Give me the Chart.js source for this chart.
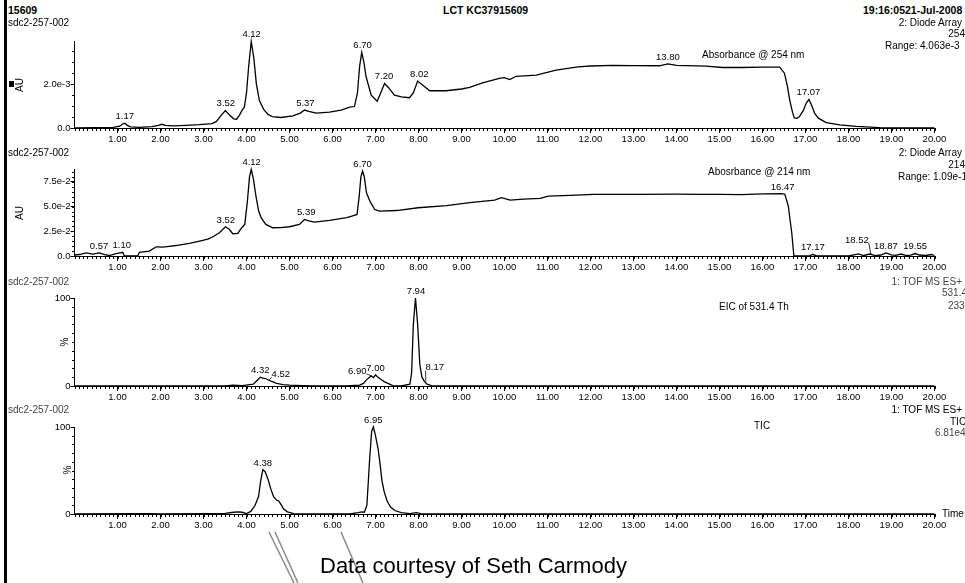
<!DOCTYPE html>
<html>
<head>
<meta charset="utf-8">
<title>LCT KC37915609</title>
<script src="https://cdn.jsdelivr.net/npm/chart.js@4.4.1/dist/chart.umd.min.js"></script>
<style>
  body { margin: 0; width: 965px; height: 583px; position: relative; overflow: hidden; background: #fff;
         font-family: "Liberation Sans", Arial, sans-serif; }
  canvas { position: absolute; left: 0; }
  .t { position: absolute; font-size: 10px; line-height: 12px; white-space: nowrap; color: #000; }
  .b { font-weight: bold; font-size: 10.5px; }
  .r { text-align: right; }
  .g { color: #444; }
  .rot { transform: translate(-50%, -50%) rotate(-90deg); }
  #bar { position: absolute; left: 4px; top: 0; width: 3px; height: 583px; background: #000; }
  #sq { position: absolute; left: 9px; top: 81px; width: 5px; height: 6px; background: #000; }
</style>
</head>
<body>
<div id="bar"></div>
<div id="sq"></div>

<canvas id="p254" width="965" height="123" style="top:25px"></canvas>
<canvas id="p214" width="965" height="123" style="top:153px"></canvas>
<canvas id="pEic" width="965" height="124" style="top:282px"></canvas>
<canvas id="pTic" width="965" height="123" style="top:411px"></canvas>

<!-- header -->
<div class="t b" style="left:8px; top:4px">15609</div>
<div class="t b" style="left:443px; top:4px">LCT KC37915609</div>
<div class="t b" style="left:863px; top:4px">19:16:0521-Jul-2008</div>

<!-- panel 1 -->
<div class="t" style="left:8px; top:17px">sdc2-257-002</div>
<div class="t r" style="right:3px; top:17px">2: Diode Array</div>
<div class="t r" style="right:0px; top:28px">254</div>
<div class="t" style="left:885px; top:40px">Range: 4.063e-3</div>
<div class="t" style="left:702px; top:49px">Absorbance @ 254 nm</div>
<div class="t rot" style="left:20px; top:85px">AU</div>

<!-- panel 2 -->
<div class="t" style="left:8px; top:147px">sdc2-257-002</div>
<div class="t r" style="right:3px; top:147px">2: Diode Array</div>
<div class="t r" style="right:0px; top:159px">214</div>
<div class="t" style="left:898px; top:171px">Range: 1.09e-1</div>
<div class="t" style="left:708px; top:166px">Abosrbance @ 214 nm</div>
<div class="t rot" style="left:20px; top:213px">AU</div>

<!-- panel 3 -->
<div class="t g" style="left:8px; top:276px">sdc2-257-002</div>
<div class="t r g" style="right:3px; top:276px">1: TOF MS ES+</div>
<div class="t g" style="left:942px; top:287px">531.4</div>
<div class="t g" style="left:948px; top:300px">233</div>
<div class="t" style="left:719px; top:301px">EIC of 531.4 Th</div>
<div class="t rot" style="left:65px; top:342px">%</div>

<!-- panel 4 -->
<div class="t g" style="left:8px; top:404px">sdc2-257-002</div>
<div class="t r" style="right:3px; top:404px">1: TOF MS ES+</div>
<div class="t" style="left:950px; top:416px">TIC</div>
<div class="t g" style="left:935px; top:427px">6.81e4</div>
<div class="t" style="left:754px; top:420px">TIC</div>
<div class="t rot" style="left:68px; top:470px">%</div>
<div class="t" style="left:942px; top:508px">Time</div>

<svg width="965" height="583" style="position:absolute; left:0; top:0">
  <g stroke="#8a8a8a" stroke-width="1.5" fill="none">
    <line x1="269" y1="532" x2="294" y2="583"/>
    <line x1="275" y1="532" x2="298" y2="583"/>
    <line x1="341" y1="532" x2="363" y2="583"/>
  </g>
</svg>
<div class="t" style="left:320px; top:553px; font-size:22px; line-height:26px">Data courtesy of Seth Carmody</div>

<script>
// retention time ticks (min)
const timeTicks = [1, 2, 3, 4, 5, 6, 7, 8, 9, 10, 11, 12, 13, 14, 15, 16, 17, 18, 19, 20];

// Diode array 254 nm, absorbance in mAU
const uv254Time = [0, 0.5, 0.9, 1.05, 1.12, 1.17, 1.23, 1.3, 1.5, 1.8, 1.95, 2.03, 2.12, 2.3, 2.6, 2.9, 3.2, 3.3,
  3.42, 3.51, 3.6, 3.7, 3.77, 3.84, 3.9, 3.95, 4.0, 4.05, 4.11, 4.17, 4.23, 4.3, 4.4, 4.5, 4.6, 4.8, 5.08, 5.25,
  5.35, 5.45, 5.62, 5.93, 6.2, 6.4, 6.51, 6.58, 6.63, 6.68, 6.73, 6.78, 6.9, 7.04, 7.12, 7.21, 7.3, 7.44, 7.6,
  7.79, 7.88, 7.98, 8.1, 8.26, 8.64, 9.0, 9.19, 9.49, 9.88, 10.0, 10.12, 10.27, 10.74, 11.2, 11.71, 12.0, 12.51,
  13.0, 13.6, 13.8, 14.0, 14.69, 15.07, 15.5, 16.0, 16.4, 16.51, 16.58, 16.63, 16.7, 16.74, 16.8, 16.86, 16.95,
  17.02, 17.08, 17.14, 17.21, 17.3, 17.48, 17.8, 18.18, 18.72, 19.3, 20.0];
const uv254Abs = [0, 0.02, 0.03, 0.08, 0.18, 0.22, 0.12, 0.05, 0.03, 0.06, 0.12, 0.17, 0.12, 0.1, 0.12, 0.15, 0.2, 0.3,
  0.6, 0.8, 0.6, 0.42, 0.4, 0.6, 0.82, 0.95, 1.6, 2.8, 3.95, 3.2, 2.0, 1.25, 0.85, 0.62, 0.52, 0.48, 0.55, 0.68,
  0.82, 0.76, 0.68, 0.72, 0.82, 0.95, 0.98, 1.6, 2.8, 3.45, 3.0, 2.35, 1.5, 1.22, 1.6, 2.03, 1.85, 1.5, 1.42,
  1.38, 1.6, 2.14, 1.95, 1.7, 1.7, 1.78, 1.85, 2.06, 2.26, 2.3, 2.21, 2.36, 2.41, 2.64, 2.79, 2.83, 2.86,
  2.85, 2.84, 2.93, 2.86, 2.82, 2.76, 2.76, 2.78, 2.78, 2.5, 1.9, 1.3, 0.7, 0.46, 0.44, 0.52, 0.8,
  1.15, 1.3, 1.05, 0.68, 0.45, 0.25, 0.14, 0.07, 0.02, 0, 0];
const uv254Peaks = [1.17, 3.52, 4.12, 5.37, 6.70, 7.20, 8.02, 13.80, 17.07];

// Diode array 214 nm, absorbance in mAU
const uv214Time = [0, 0.12, 0.27, 0.43, 0.58, 0.7, 0.81, 0.97, 1.05, 1.12, 1.16, 1.3, 1.47, 1.51, 1.74, 1.9, 2.05,
  2.2, 2.36, 2.5, 2.67, 2.91, 3.1, 3.22, 3.37, 3.51, 3.6, 3.68, 3.8, 3.86, 3.91, 3.96, 4.02, 4.07, 4.11, 4.16,
  4.22, 4.28, 4.34, 4.45, 4.61, 4.8, 5.0, 5.23, 5.35, 5.45, 5.58, 5.93, 6.33, 6.45, 6.57, 6.62, 6.66, 6.70, 6.74,
  6.79, 6.87, 6.98, 7.1, 7.49, 7.99, 8.65, 9.19, 9.77, 9.93, 10.13, 10.44, 10.83, 11.02, 11.52, 12.07, 13.15,
  14.0, 14.5, 15.0, 15.5, 16.0, 16.45, 16.52, 16.6, 16.68, 16.73, 17.0, 17.1, 17.17, 17.25, 17.5, 18.0, 18.1,
  18.23, 18.35, 18.5, 18.62, 18.75, 18.87, 19.0, 19.1, 19.22, 19.35, 19.45, 19.55, 19.65, 19.8, 19.93, 20.0];
const uv214Abs = [1.0, 1.5, 3.2, 2.0, 3.2, 1.5, 0.5, 2.5, 3.2, 3.8, 0.2, 0, 0, 3.8, 4.9, 9.3, 9.0,
  9.8, 10.6, 11.5, 12.7, 15.0, 17.0, 19.5, 23.5, 29.6, 27, 22.5, 22.8, 27, 29.6, 32, 55, 80, 87.6, 78,
  60.6, 46, 38.7, 32, 28.6, 28.8, 29.6, 31.9, 37, 35.5, 34.2, 36, 38.7, 40.3, 42, 60, 80, 86, 80,
  64, 55.5, 47, 45.4, 46, 48.8, 51, 54, 56.5, 59, 56.5, 57.5, 58.3, 60.6, 61.3, 62.3, 62.3,
  62.5, 62.3, 62.3, 62.0, 62.8, 63, 62.5, 50.5, 23.5, 0, 0, 0.3, 1.5, 0.3, 0, 0, 1.0,
  2.2, 0.5, 2.0, 0.4, 1.0, 3.2, 1.2, 0.6, 2.0, 0.5, 0.8, 2.5, 1.0, 0.5, 1.5, 0.5];
const uv214Peaks = [0.57, 1.10, 3.52, 4.12, 5.39, 6.70, 16.47, 17.17, 18.52, 18.87, 19.55];

// TOF MS ES+ extracted ion chromatogram 531.4, % of max
const eicTime = [0, 3.5, 3.69, 3.9, 4.16, 4.24, 4.32, 4.38, 4.44, 4.52, 4.6, 4.7, 4.85, 5.0, 5.3, 5.6, 6.3, 6.63,
  6.72, 6.79, 6.9, 6.95, 7.0, 7.06, 7.13, 7.2, 7.29, 7.4, 7.6, 7.8, 7.84, 7.88, 7.93, 7.98, 8.03, 8.08, 8.14,
  8.2, 8.3, 8.5, 20.0];
const eicPct = [0, 0, 1, 0.5, 2, 6, 10, 9, 8.5, 6.5, 5, 3, 1.5, 1, 0.5, 0, 0, 1,
  3, 7, 11.5, 9.5, 12.5, 10, 7.5, 5, 3, 0.5, 0, 2, 15, 70, 100, 70, 25, 10, 5,
  2, 0.5, 0, 0];
const eicPeaks = [4.32, 4.52, 6.90, 7.00, 7.94, 8.17];

// TOF MS ES+ total ion current, % of max
const ticTime = [0, 1.4, 1.7, 2.0, 3.1, 3.5, 3.7, 3.8, 3.9, 4.0, 4.1, 4.2, 4.28, 4.33, 4.38, 4.43, 4.5, 4.57,
  4.63, 4.7, 4.75, 4.8, 4.86, 4.95, 5.1, 5.5, 6.4, 6.6, 6.68, 6.74, 6.8, 6.86, 6.91, 6.95, 7.0, 7.06, 7.1,
  7.15, 7.2, 7.27, 7.35, 7.45, 7.6, 7.8, 7.95, 8.05, 8.3, 20.0];
const ticPct = [0, 0.5, 0.3, 0, 0.4, 0.8, 2, 2.5, 2, 0.5, 3, 10, 20, 38, 51, 49, 40, 28,
  20, 16, 15, 11, 6, 2.5, 0.5, 0, 0, 1.5, 2.5, 2, 10, 60, 95, 100, 90, 75, 60,
  38, 26, 15, 8, 4, 1.5, 0.5, 1.5, 0.5, 0, 0];
const ticPeaks = [4.38, 6.95];

const FONT = '"Liberation Sans", Arial, sans-serif';
Chart.defaults.font.family = FONT;

// small ticks between the labelled ones
const minorTicks = {
  id: 'minorTicks',
  afterDraw(chart, args, opts) {
    const { ctx, chartArea, scales: { x, y } } = chart;
    const bottom = Math.round(chartArea.bottom);
    const left = Math.round(chartArea.left);
    ctx.save();
    ctx.strokeStyle = '#000';
    ctx.lineWidth = 1;
    ctx.beginPath();
    for (let k = 0; k * opts.xStep <= x.max + 1e-9; k++) {
      const px = Math.round(x.getPixelForValue(k * opts.xStep)) + 0.5;
      ctx.moveTo(px, bottom);
      ctx.lineTo(px, bottom + 3);
    }
    for (let k = 0; k * opts.yStep <= y.max + 1e-9; k++) {
      const py = Math.round(y.getPixelForValue(k * opts.yStep)) + 0.5;
      ctx.moveTo(left, py);
      ctx.lineTo(left - 3, py);
    }
    ctx.stroke();
    ctx.restore();
  }
};

// retention time written over each peak
const peakLabels = {
  id: 'peakLabels',
  afterDatasetsDraw(chart, args, opts) {
    const { ctx, scales: { x, y } } = chart;
    const pts = chart.data.datasets[0].data;
    ctx.save();
    ctx.font = '9.5px ' + FONT;
    ctx.fillStyle = '#000';
    ctx.strokeStyle = '#000';
    ctx.lineWidth = 0.8;
    ctx.textAlign = 'center';
    ctx.textBaseline = 'bottom';
    (opts.peaks || []).forEach((t) => {
      let top = 0;
      pts.forEach((p) => { if (Math.abs(p.x - t) <= 0.07 && p.y > top) top = p.y; });
      const text = t.toFixed(2);
      const nudge = (opts.nudge || {})[text] || [0, 0];
      const px = x.getPixelForValue(t);
      const py = y.getPixelForValue(top);
      const lx = px + nudge[0];
      const ly = py - 2 + nudge[1];
      ctx.fillText(text, lx, ly);
      if (nudge[0] !== 0) {
        const w = ctx.measureText(text).width;
        const ex = nudge[0] > 0 ? lx - w / 2 : lx + w / 2;
        ctx.beginPath();
        ctx.moveTo(px, py);
        ctx.lineTo(ex, ly - 2);
        ctx.stroke();
      }
    });
    ctx.restore();
  }
};

function makePanel(id, times, values, cfg) {
  const canvas = document.getElementById(id);
  return new Chart(canvas, {
    type: 'line',
    data: {
      datasets: [{
        data: times.map((t, i) => ({ x: t, y: values[i] })),
        borderColor: '#000',
        borderWidth: 1.3,
        pointRadius: 0,
        tension: 0,
        clip: 8
      }]
    },
    options: {
      responsive: false,
      animation: false,
      events: [],
      layout: { padding: { top: 16, right: 30.5, bottom: 0, left: 0 } },
      plugins: {
        legend: { display: false },
        tooltip: { enabled: false },
        minorTicks: { xStep: 0.1, yStep: cfg.yMinor },
        peakLabels: { peaks: cfg.peaks, nudge: cfg.nudge }
      },
      scales: {
        x: {
          type: 'linear',
          min: 0,
          max: 20,
          afterBuildTicks: (s) => { s.ticks = timeTicks.map((v) => ({ value: v })); },
          afterFit: (s) => { s.height = 20; s.paddingLeft = 0; s.paddingRight = 0; },
          ticks: {
            autoSkip: false,
            maxRotation: 0,
            padding: 1,
            color: '#000',
            font: { size: 9.5 },
            callback: (v) => Number(v).toFixed(2)
          },
          grid: { drawOnChartArea: false, tickLength: 5, tickColor: '#000' },
          border: { color: '#000', width: 1 }
        },
        y: {
          min: 0,
          max: cfg.yMax,
          afterBuildTicks: (s) => { s.ticks = cfg.yTicks.map((v) => ({ value: v })); },
          afterFit: (s) => { s.width = 74.5; s.paddingTop = 0; s.paddingBottom = 0; },
          ticks: {
            padding: 0,
            color: '#000',
            font: { size: 9.5 },
            callback: cfg.yFormat
          },
          grid: { drawOnChartArea: false, tickLength: 4, tickColor: '#000' },
          border: { color: '#000', width: 1 }
        }
      }
    },
    plugins: [minorTicks, peakLabels]
  });
}

// mAU -> AU written the MassLynx way
const auFormat = (v) => (v === 0 ? '0.0' : (v / 1000).toExponential(1));
const pctFormat = (v) => String(v);

makePanel('p254', uv254Time, uv254Abs, {
  yMax: 3.97, yTicks: [0, 2], yMinor: 0.5, yFormat: auFormat, peaks: uv254Peaks
});
makePanel('p214', uv214Time, uv214Abs, {
  yMax: 88, yTicks: [0, 25, 50, 75], yMinor: 5, yFormat: auFormat, peaks: uv214Peaks,
  nudge: { '18.52': [-14, -7] }
});
makePanel('pEic', eicTime, eicPct, {
  yMax: 100, yTicks: [0, 100], yMinor: 10, yFormat: pctFormat, peaks: eicPeaks,
  nudge: { '4.52': [12, 1], '6.90': [-14, 2], '8.17': [9, -7] }
});
makePanel('pTic', ticTime, ticPct, {
  yMax: 100, yTicks: [0, 100], yMinor: 10, yFormat: pctFormat, peaks: ticPeaks
});
</script>
</body>
</html>
